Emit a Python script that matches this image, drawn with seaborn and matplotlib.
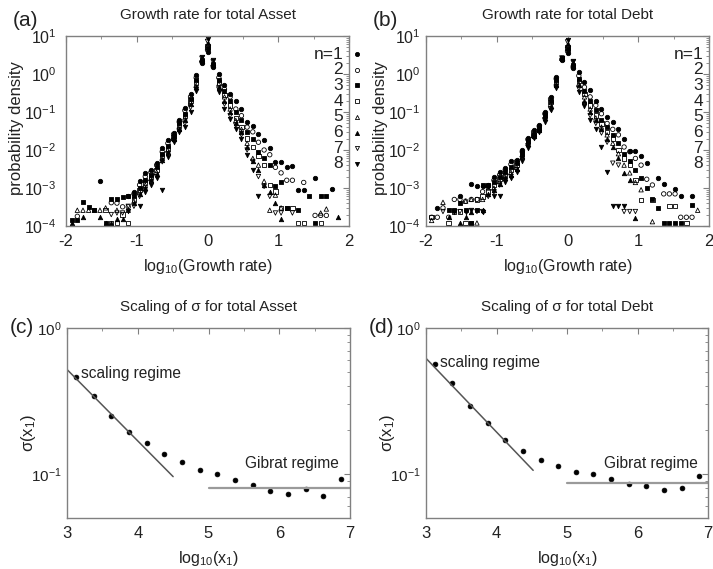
import numpy as np
import matplotlib
matplotlib.use("Agg")
import matplotlib.pyplot as plt
import seaborn as sns
from matplotlib.ticker import LogLocator, MultipleLocator, NullFormatter

nan = np.nan

# bins of log10(growth rate), shared by panels (a) and (b)
growth_bins = [-1.92, -1.84, -1.76, -1.68, -1.60, -1.52, -1.44, -1.36, -1.28, -1.20, -1.12, -1.04,
               -0.96, -0.88, -0.80, -0.72, -0.64, -0.56, -0.48, -0.40, -0.32, -0.24, -0.16, -0.08,
               0.00, 0.08, 0.16, 0.24, 0.32, 0.40, 0.48, 0.56, 0.64, 0.72, 0.80, 0.88,
               0.96, 1.04, 1.12, 1.20, 1.28, 1.36, 1.44, 1.52, 1.60, 1.68, 1.76, 1.84]

# (a) total Asset, probability density for n = 1..8
asset_n1 = [nan, nan, nan, nan, nan, 1.5e-3, nan, nan, nan, nan, 6e-4, 8e-4,
            1.5e-3, 2.5e-3, 3e-3, 4.6e-3, 1.1e-2, 1.8e-2, 2.8e-2, 6.3e-2, 0.126, 0.29, 0.93, 2.0,
            3.9, 1.5, 1.0, 0.5, 0.3, 0.2, 0.12, 0.056, 0.043, 0.027, 0.018, 0.011,
            4.9e-3, 4.9e-3, 3.6e-3, 3.7e-3, 9e-4, 9e-4, nan, 1.8e-3, nan, nan, 9.3e-4, nan]
asset_n2 = [nan, 1.8e-4, nan, nan, nan, nan, nan, 4.1e-4, 4e-4, 3.2e-4, 3.2e-4, 7e-4,
            1.2e-3, 2e-3, 2.6e-3, 4e-3, 9e-3, 1.5e-2, 2.6e-2, 5.5e-2, 0.11, 0.25, 0.8, 2.1,
            4.3, 1.6, 0.8, 0.4, 0.25, 0.12, 0.08, 0.04, 0.03, 0.016, 0.01, 7.5e-3,
            3.5e-3, 2.5e-3, 1.6e-3, 1.6e-3, nan, 1.4e-3, nan, 1.9e-4, 1.9e-4, 1.9e-4, nan, nan]
asset_n3 = [1.4e-4, 1.4e-4, 4.3e-4, 3.2e-4, 2.6e-4, nan, 1.2e-4, 5e-4, 5e-4, 5.7e-4, 6e-4, 6e-4,
            1e-3, 1.6e-3, 2.2e-3, 3.5e-3, 8e-3, 1.3e-2, 2.4e-2, 5e-2, 9e-2, 0.22, 0.7, 2.2,
            4.8, 1.7, 0.7, 0.35, 0.2, 0.1, 0.06, 0.03, 0.02, 9e-3, 6e-3, 4e-3,
            1.1e-3, 1.4e-3, 3e-4, nan, 2.6e-4, nan, 6.2e-4, 1.2e-4, 6.2e-4, 6.2e-4, nan, nan]
asset_n4 = [nan, nan, nan, nan, 2.6e-4, nan, 2.6e-4, 1.2e-4, 1.2e-4, 2e-4, 1.2e-4, 5e-4,
            9e-4, 1.4e-3, 2e-3, 3e-3, 7e-3, 1.1e-2, 2.2e-2, 4.5e-2, 8e-2, 0.2, 0.6, 2.3,
            5.3, 1.8, 0.6, 0.28, 0.15, 0.07, 0.04, 0.02, 0.012, 7e-3, 4e-3, 1.2e-3,
            8e-4, 3e-4, 3e-4, 3e-4, 1.2e-4, 1.2e-4, nan, nan, 1.2e-4, nan, nan, nan]
asset_n5 = [nan, 2.6e-4, 2.6e-4, 2.6e-4, nan, 2.6e-4, 3e-4, nan, 2.6e-4, nan, 2.6e-4, 4.5e-4,
            8e-4, 1.2e-3, 1.8e-3, 2.6e-3, 6e-3, 1e-2, 2e-2, 4e-2, 7e-2, 0.18, 0.5, 2.4,
            5.8, 1.9, 0.55, 0.25, 0.12, 0.06, 0.035, 0.015, 6e-3, 4e-3, 1.5e-3, 2.6e-4,
            6.5e-4, 3e-4, nan, nan, nan, nan, nan, nan, 2.2e-4, 2.8e-4, nan, nan]
asset_n6 = [1.2e-4, nan, 1.7e-4, nan, nan, 1.7e-4, 1.2e-4, 1.2e-4, 1.5e-4, 1.5e-4, nan, 4e-4,
            7e-4, 1e-3, 1.6e-3, 2.3e-3, 5.5e-3, 9e-3, 1.9e-2, 3.6e-2, 6e-2, 0.16, 0.45, 2.5,
            6.4, 2.0, 0.45, 0.2, 0.1, 0.05, 0.03, 0.012, 5e-3, 3e-3, 1.2e-3, 8e-4,
            4e-4, 1.5e-4, nan, nan, nan, nan, nan, nan, nan, nan, nan, 1.7e-4]
asset_n7 = [nan, nan, nan, nan, nan, nan, nan, 2e-4, 2.2e-4, 2.2e-4, 3.3e-4, 3.3e-4,
            6e-4, 9e-4, 1.4e-3, 2e-3, 4.9e-3, 8e-3, 1.8e-2, 3.3e-2, 5e-2, 0.13, 0.4, 2.6,
            7.2, 2.1, 0.4, 0.16, 0.08, 0.045, 0.025, 0.01, 5e-3, 2e-3, 1.1e-3, 6e-4,
            2.2e-4, 2.2e-4, nan, 2.2e-4, nan, nan, nan, nan, nan, nan, nan, nan]
asset_n8 = [nan, nan, nan, nan, nan, nan, nan, nan, nan, nan, 2.5e-4, nan,
            3.3e-4, 8e-4, 1.2e-3, 1.8e-3, 9e-4, 6.6e-3, 1.6e-2, 3e-2, 4e-2, 0.1, 0.35, 2.8,
            8.2, 2.3, 0.33, 0.12, 0.065, 0.035, 0.02, 7.4e-3, 3e-3, 6e-4, nan, nan,
            nan, nan, nan, nan, nan, nan, nan, nan, nan, nan, nan, nan]

# (b) total Debt
debt_n1 = [nan, 3e-4, nan, nan, nan, 6.3e-4, nan, 1.25e-3, 1.1e-3, 1.1e-3, 1.2e-3, 2e-3,
           2.6e-3, 3.4e-3, 5e-3, 5.5e-3, 1e-2, 2.1e-2, 3.4e-2, 4.5e-2, 0.1, 0.25, 0.85, 2.4,
           3.5, 1.4, 1.1, 0.63, 0.38, 0.2, 0.117, 0.075, 0.056, 0.035, 0.02, 9.5e-3,
           9.5e-3, 6.9e-3, 4.5e-3, nan, 1.8e-3, 1.3e-3, nan, 9.3e-4, 6.2e-4, nan, 6.2e-4, nan]
debt_n2 = [1.7e-4, 1.7e-4, 3e-4, 1.7e-4, 5e-4, 5e-4, 4.5e-4, 5e-4, 5e-4, 8e-4, 1.1e-3, 1.6e-3,
           2.2e-3, 3e-3, 4.2e-3, 5e-3, 9e-3, 1.9e-2, 3e-2, 4.2e-2, 9e-2, 0.22, 0.75, 2.45,
           4.0, 1.5, 0.9, 0.45, 0.25, 0.15, 0.09, 0.05, 0.035, 0.025, 0.012, 9e-3,
           6e-3, 4e-3, 1.7e-3, 1.2e-3, nan, 7e-4, 7e-4, 7e-4, 1.7e-4, 1.7e-4, 1.7e-4, nan]
debt_n3 = [nan, nan, nan, 2.6e-4, 2.6e-4, 4e-4, 2.6e-4, 1.2e-4, 2.6e-4, 1.2e-3, 1.2e-3, 1.4e-3,
           2e-3, 2.6e-3, 3.6e-3, 4.5e-3, 8.5e-3, 1.7e-2, 2.7e-2, 4e-2, 8.5e-2, 0.2, 0.7, 2.5,
           4.5, 1.6, 0.75, 0.35, 0.19, 0.11, 0.06, 0.04, 0.025, 0.015, 8e-3, 5e-3,
           3e-3, 1.8e-3, 1e-3, 5e-4, 3e-4, 1.2e-4, 1.2e-4, 1.2e-4, 1.2e-4, nan, 3.5e-4, nan]
debt_n4 = [1.7e-4, nan, nan, 1.2e-4, 2.4e-4, 2.4e-4, 1.2e-4, 1.2e-4, 5e-4, 6e-4, 8e-4, 1.2e-3,
           1.7e-3, 2.2e-3, 3e-3, 4e-3, 8e-3, 1.6e-2, 2.5e-2, 3.7e-2, 8e-2, 0.18, 0.62, 2.55,
           5.0, 1.75, 0.65, 0.3, 0.15, 0.08, 0.05, 0.03, 0.02, 0.01, 6e-3, 4e-3,
           1.6e-3, 4.8e-4, nan, 4.8e-4, nan, nan, 3.4e-4, 3.4e-4, nan, 1.2e-4, nan, nan]
debt_n5 = [1.4e-4, nan, 4.2e-4, nan, nan, nan, 4.5e-4, 5e-4, 1.2e-4, 5e-4, 1e-3, 1e-3,
           1.5e-3, 2e-3, 2.6e-3, 3.5e-3, 7.5e-3, 1.5e-2, 2.4e-2, 3.5e-2, 7.5e-2, 0.16, 0.55, 2.6,
           5.6, 1.85, 0.55, 0.25, 0.12, 0.07, 0.04, 0.025, 0.015, 8e-3, 4e-3, 2.5e-3,
           1.4e-3, 9e-4, nan, 1.3e-4, nan, nan, nan, nan, nan, nan, nan, 2.6e-4]
debt_n6 = [nan, nan, nan, 1.7e-4, nan, 1.2e-4, 1.7e-4, 2.4e-4, nan, 2.6e-4, 7e-4, 9e-4,
           1.3e-3, 1.8e-3, 2.2e-3, 3.2e-3, 7e-3, 1.4e-2, 2.3e-2, 3.3e-2, 7e-2, 0.14, 0.5, 2.6,
           6.2, 1.95, 0.5, 0.2, 0.1, 0.06, 0.035, 0.02, 0.012, 6e-3, 2.5e-3, 1.6e-3,
           1.6e-4, nan, nan, nan, nan, nan, nan, nan, nan, nan, nan, nan]
debt_n7 = [nan, nan, 2.4e-4, nan, 2.4e-4, 2.4e-4, nan, nan, 2.4e-4, 2.4e-4, 6e-4, 8e-4,
           1.2e-3, 1.6e-3, 2e-3, 3e-3, 6e-3, 1.3e-2, 2.2e-2, 3.1e-2, 6.3e-2, 0.12, 0.46, 2.65,
           7.0, 2.05, 0.42, 0.16, 0.08, 0.05, 0.028, 0.016, 4.5e-3, 4e-3, 2.4e-4, 2.4e-4,
           2.4e-4, nan, nan, nan, nan, nan, nan, nan, nan, nan, nan, nan]
debt_n8 = [nan, nan, nan, nan, 2.4e-4, nan, 2.4e-4, 2.6e-4, nan, 2.4e-4, 1.1e-3, 6e-4,
           6e-4, 1.4e-3, 1.8e-3, 2.7e-3, 5e-3, 1.1e-2, 2.1e-2, 3e-2, 5.6e-2, 0.11, 0.42, 2.7,
           7.8, 2.2, 0.34, 0.14, 0.06, 0.035, 0.012, 2.7e-3, 3.4e-4, 3.4e-4, 3.4e-4, nan,
           nan, nan, nan, nan, nan, nan, nan, nan, nan, nan, nan, nan]

series_labels = ["n=1", "2", "3", "4", "5", "6", "7", "8"]
series_markers = ["o", "o", "s", "s", "^", "^", "v", "v"]
series_filled = [True, False, True, False, False, True, False, True]

# (c), (d) scaling of sigma with size
size_bins = [3.125, 3.375, 3.625, 3.875, 4.125, 4.375, 4.625, 4.875,
             5.125, 5.375, 5.625, 5.875, 6.125, 6.375, 6.625, 6.875]
asset_sigma = [0.46, 0.342, 0.25, 0.194, 0.162, 0.137, 0.12, 0.106,
               0.0995, 0.091, 0.084, 0.077, 0.073, 0.079, 0.071, 0.092]
debt_sigma = [0.566, 0.417, 0.294, 0.224, 0.171, 0.144, 0.124, 0.113,
              0.104, 0.100, 0.0925, 0.0855, 0.083, 0.078, 0.080, 0.0975]
asset_fit_x = [3.0, 4.5]
asset_fit_y = [0.52, 0.096]
debt_fit_x = [3.0, 4.52]
debt_fit_y = [0.62, 0.106]
gibrat_x = [5.0, 7.0]
asset_gibrat = [0.0806, 0.0806]
debt_gibrat = [0.087, 0.087]

sns.set_style("white")
plt.rcParams["font.family"] = ["Liberation Sans", "DejaVu Sans"]
plt.rcParams["mathtext.default"] = "regular"
plt.rcParams["axes.unicode_minus"] = False
txt = "#222222"
frame = "#808080"

fig = plt.figure(figsize=(7.13, 5.69), dpi=100)
W, H = 713, 569
ax_a = fig.add_axes([66 / W, 1 - 226 / H, 283 / W, 190 / H])
ax_b = fig.add_axes([426 / W, 1 - 226 / H, 283 / W, 190 / H])
ax_c = fig.add_axes([67 / W, 1 - 518 / H, 283 / W, 190 / H])
ax_d = fig.add_axes([426 / W, 1 - 518 / H, 282 / W, 190 / H])


def style_axes(ax, ypad, ysize):
    for sp in ax.spines.values():
        sp.set_color(frame)
        sp.set_linewidth(1.0)
    ax.tick_params(which="both", direction="in", top=True, right=True,
                   color=frame, labelcolor=txt)
    ax.tick_params(axis="x", pad=6, labelsize=12)
    ax.tick_params(axis="y", pad=ypad, labelsize=ysize)
    ax.tick_params(which="major", length=4)
    ax.tick_params(which="minor", length=2.2)


growth = [(ax_a, [asset_n1, asset_n2, asset_n3, asset_n4, asset_n5, asset_n6, asset_n7, asset_n8],
           "Growth rate for total Asset", 7, -0.147),
          (ax_b, [debt_n1, debt_n2, debt_n3, debt_n4, debt_n5, debt_n6, debt_n7, debt_n8],
           "Growth rate for total Debt", 4, -0.135)]

for ax, data, title, ypad, ylab_x in growth:
    for ys, mk, filled in zip(data, series_markers, series_filled):
        sns.scatterplot(x=growth_bins, y=ys, marker=mk, s=10, color="k",
                        facecolor="k" if filled else "none", edgecolor="k",
                        linewidth=0.6, ax=ax, legend=False)
    ax.set_yscale("log")
    ax.set_xlim(-2, 2)
    ax.set_ylim(1e-4, 10)
    ax.xaxis.set_major_locator(MultipleLocator(1))
    ax.xaxis.set_minor_locator(MultipleLocator(0.5))
    ax.yaxis.set_major_locator(LogLocator(base=10))
    ax.yaxis.set_minor_locator(LogLocator(base=10, subs=np.arange(2, 10)))
    ax.yaxis.set_minor_formatter(NullFormatter())
    style_axes(ax, ypad, 11.5)
    ax.set_title(title, fontsize=11, color=txt, pad=12)
    ax.set_xlabel("log$_{10}$(Growth rate)", fontsize=11.5, color=txt, va="top")
    ax.xaxis.set_label_coords(0.5, -0.163)
    ax.set_ylabel("probability density", fontsize=12, color=txt)
    ax.yaxis.set_label_coords(ylab_x, 0.516)
    # key: labels inside, symbols just right of the frame
    for i, (lab, mk, filled) in enumerate(zip(series_labels, series_markers, series_filled)):
        yy = 0.905 - i * 0.0826
        ax.text(0.979, yy, lab, transform=ax.transAxes, ha="right", va="center",
                fontsize=12.5, color=txt)
        ax.plot([1.028], [yy], marker=mk, ms=3.0, color="k",
                mfc="k" if filled else "none", mew=0.6, ls="none",
                transform=ax.transAxes, clip_on=False)

scaling = [(ax_c, asset_sigma, asset_fit_x, asset_fit_y, asset_gibrat, "Scaling of σ for total Asset", 0.49),
           (ax_d, debt_sigma, debt_fit_x, debt_fit_y, debt_gibrat, "Scaling of σ for total Debt", 0.58)]

for ax, sig, fx, fy, gy, title, ys_txt in scaling:
    sns.lineplot(x=fx, y=fy, color="#555555", lw=1.1, ax=ax)
    sns.lineplot(x=gibrat_x, y=gy, color="#9a9a9a", lw=1.6, ax=ax)
    sns.scatterplot(x=size_bins, y=sig, marker="o", s=12, color="k",
                    edgecolor="k", linewidth=0.5, ax=ax, legend=False)
    ax.set_yscale("log")
    ax.set_xlim(3, 7)
    ax.set_ylim(0.05, 1)
    ax.xaxis.set_major_locator(MultipleLocator(1))
    ax.xaxis.set_minor_locator(MultipleLocator(0.5))
    ax.yaxis.set_major_locator(LogLocator(base=10))
    ax.yaxis.set_minor_locator(LogLocator(base=10, subs=np.arange(2, 10)))
    ax.yaxis.set_minor_formatter(NullFormatter())
    style_axes(ax, 4, 11)
    ax.set_title(title, fontsize=11, color=txt, pad=12)
    ax.set_xlabel("log$_{10}$(x$_1$)", fontsize=11.5, color=txt, va="top")
    ax.xaxis.set_label_coords(0.5, -0.165)
    ax.set_ylabel("σ(x$_1$)", fontsize=12, color=txt)
    ax.yaxis.set_label_coords(-0.103, 0.447)
    ax.text(3.2, ys_txt, "scaling regime", fontsize=11.2, color=txt, va="center")
    ax.text(5.52, 0.119, "Gibrat regime", fontsize=11.2, color=txt, va="center")

for lab, x, y in [("(a)", 13, 11), ("(b)", 373, 11), ("(c)", 10, 318), ("(d)", 369, 318)]:
    fig.text(x / W, 1 - y / H, lab, fontsize=15, color=txt, va="top", ha="left")

fig.savefig("out.png", dpi=100)
